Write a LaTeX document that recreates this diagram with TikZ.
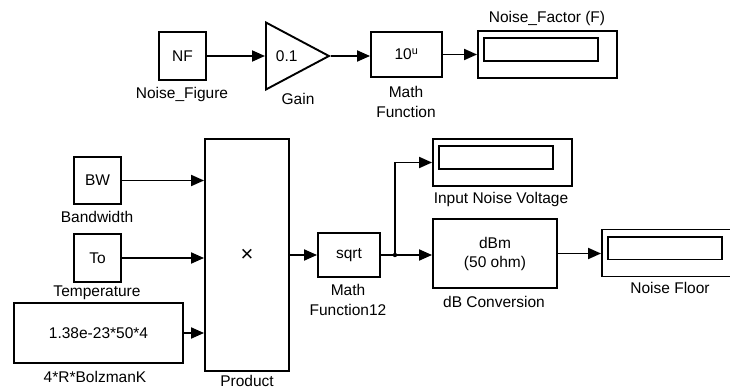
\documentclass[tikz,border=0pt]{standalone}
\usepackage{fontspec}
\setsansfont{Liberation Sans}
\usetikzlibrary{arrows.meta,calc,positioning,shapes.geometric}

\begin{document}
\begin{tikzpicture}[
    x=1pt, y=-1pt,
    >={Triangle[length=13pt,width=11pt]},
    block/.style={
        draw,
        line width=1.9pt,
        inner sep=0pt,
        font=\sffamily\fontsize{15.5}{19}\selectfont,
        align=center
    },
    display/.style={block, minimum width=139, minimum height=47},
    blocklabel/.style={font=\sffamily\fontsize{15.5}{20}\selectfont, align=center},
    signal/.style={->, line width=1.9pt}
]
\useasboundingbox (0,0) rectangle (730,390);

% Upper chain: noise figure in dB scaled by 0.1, then raised as a power
% of ten to give the linear noise factor.
\node[block, minimum width=47, minimum height=48] (nf) at (182.5,56) {NF};
\node[blocklabel] (nflab) at (182,94) {Noise\_Figure};
\node[block, isosceles triangle, isosceles triangle stretches,
      minimum width=67, minimum height=63, anchor=lower side] (gain) at (265,56) {0.1};
\node[blocklabel] (gainlab) at (298,99) {Gain};
\node[block, minimum width=71, minimum height=45] (mathfn) at (406.5,54.5)
    {10\textsuperscript{u}};
\node[blocklabel] (mathfnlab) at (406,102) {Math\\Function};
\node[display] (nfac) at (547.5,54.5) {};
\node[blocklabel] (nfaclab) at (547,18) {Noise\_Factor (F)};

% Lower chain: the three constants are multiplied, the root is taken and
% the result is shown both as a voltage and in dBm.
\node[block, minimum width=47, minimum height=47] (bw) at (97.5,180.5) {BW};
\node[blocklabel] (bwlab) at (97,217) {Bandwidth};
\node[block, minimum width=47, minimum height=48] (temp) at (97.5,258) {To};
\node[blocklabel] (templab) at (97,293) {Temperature};
\node[block, minimum width=169, minimum height=60] (kconst) at (98.5,333)
    {1.38e-23*50*4};
\node[blocklabel] (kconstlab) at (95,377) {4*R*BolzmanK};
\node[block, minimum width=84, minimum height=232] (prod) at (247,255)
    {\fontsize{22}{22}\selectfont ×};
\node[blocklabel] (prodlab) at (247,381) {Product};
\node[block, minimum width=62, minimum height=44] (sqrtfn) at (349,255) {sqrt};
\node[blocklabel] (sqrtfnlab) at (348,300) {Math\\Function12};
\node[display] (vin) at (502.5,162.5) {};
\node[blocklabel] (vinlab) at (501,199) {Input Noise Voltage};
\node[block, minimum width=124, minimum height=69] (dbconv) at (495,253.5)
    {dBm\\(50 ohm)};
\node[blocklabel] (dbconvlab) at (494,302) {dB Conversion};
\node[display] (floor) at (671.5,253) {};
\node[blocklabel] (floorlab) at (670,288) {Noise Floor};

% Display windows inside the scopes.
\foreach \d in {nfac,vin,floor} {
    \draw[line width=1.9pt] ($(\d.north west)+(7,8)$) rectangle ($(\d.south east)+(-20,-18)$);
}

% Signal lines.
\draw[signal] (nf.east) -- (gain.lower side);
\draw[signal] (gain.apex) -- (gain.apex -| mathfn.west);
\draw[signal] (mathfn.east) -- (mathfn.east -| nfac.west);
\foreach \src in {bw,temp,kconst} {
    \draw[signal] (\src.east) -- (\src.east -| prod.west);
}
\draw[signal] (sqrtfn.west -| prod.east) -- (sqrtfn.west);
\coordinate (branch) at ($(sqrtfn.east)+(14,0)$);
\draw[line width=1.9pt] (sqrtfn.east) -- (branch);
\draw[signal] (branch) |- (vin.west);
\draw[signal] (branch) -- (branch -| dbconv.west);
\fill (branch) circle (2.2);
\draw[signal] (dbconv.east) -- (dbconv.east -| floor.west);

\end{tikzpicture}
\end{document}
